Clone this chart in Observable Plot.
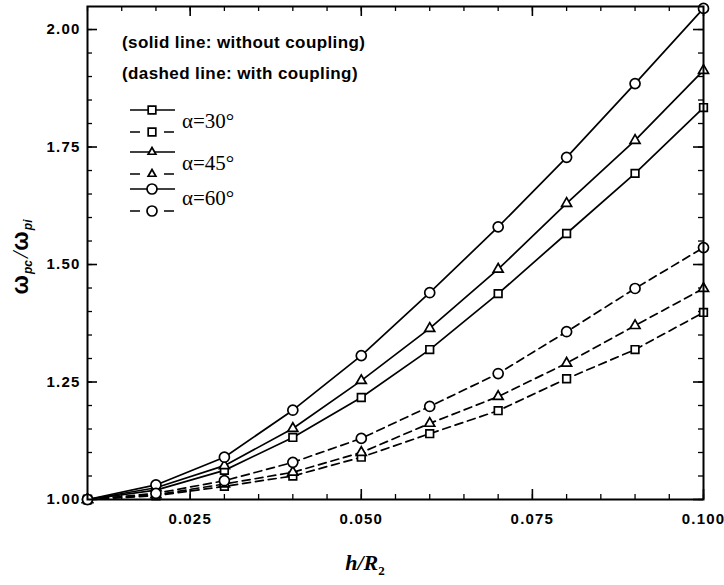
<!DOCTYPE html>
<html>
<head>
<meta charset="utf-8">
<script src="https://cdn.jsdelivr.net/npm/d3@7"></script>
<script src="https://cdn.jsdelivr.net/npm/@observablehq/plot@0.6"></script>
<style>
  html, body { margin: 0; padding: 0; background: #fff; }
  #chart { width: 724px; height: 585px; }
</style>
</head>
<body>
<div id="chart"></div>
<script>
// ---- Data ----
const hR = [0.01, 0.02, 0.03, 0.04, 0.05, 0.06, 0.07, 0.08, 0.09, 0.10];
const solid30 = [1.000, 1.020, 1.062, 1.132, 1.217, 1.319, 1.438, 1.566, 1.694, 1.834];
const solid45 = [1.000, 1.025, 1.072, 1.151, 1.253, 1.364, 1.490, 1.630, 1.764, 1.913];
const solid60 = [1.000, 1.031, 1.090, 1.190, 1.306, 1.440, 1.580, 1.728, 1.885, 2.045];
const dash30  = [1.000, 1.008, 1.028, 1.050, 1.090, 1.140, 1.189, 1.257, 1.319, 1.398];
const dash45  = [1.000, 1.010, 1.033, 1.058, 1.100, 1.162, 1.219, 1.290, 1.370, 1.449];
const dash60  = [1.000, 1.013, 1.040, 1.079, 1.130, 1.198, 1.268, 1.357, 1.449, 1.536];

const alphas = ["α=30°", "α=45°", "α=60°"];
const symbols = ["square", "triangle", "circle"];
const legendNotes = ["(solid line: without coupling)", "(dashed line: with coupling)"];

const xMajor = [0.025, 0.050, 0.075, 0.100];
const xMinor = d3.range(0, 19).map(i => +(0.01 + i * 0.005).toFixed(3));
const yMajor = [1.00, 1.25, 1.50, 1.75, 2.00];
const yMinor = d3.range(0, 21).map(i => +(1 + i * 0.05).toFixed(2));

// ---- Build tables ----
const solidSets = [solid30, solid45, solid60];
const dashSets = [dash30, dash45, dash60];
const solidRows = [], dashRows = [];
solidSets.forEach((vals, k) => vals.forEach((v, i) => solidRows.push({x: hR[i], y: v, s: alphas[k], sym: symbols[k]})));
dashSets.forEach((vals, k) => vals.forEach((v, i) => dashRows.push({x: hR[i], y: v, s: alphas[k], sym: symbols[k]})));
const allRows = solidRows.concat(dashRows);

// ---- Layout ----
const W = 724, H = 585, mL = 87, mR = 21, mT = 6, mB = 86;
const fw = W - mL - mR, fh = H - mT - mB;
const symR = {square: 4.3, triangle: 3.7, circle: 5};
const lineW = 1.7;

const plot = Plot.plot({
  width: W, height: H,
  marginLeft: mL, marginRight: mR, marginTop: mT, marginBottom: mB,
  style: {fontFamily: "'Liberation Sans', Arial, sans-serif", fontSize: "15px", fontWeight: "bold", color: "#000", background: "#fff", letterSpacing: "1.2px"},
  x: {domain: [0.01, 0.1]},
  y: {domain: [1.0, 2.049]},
  marks: [
    // tick labels
    Plot.axisX(xMajor, {tickSize: 0, tickPadding: 14, tickFormat: d => d.toFixed(3), label: null}),
    Plot.axisY(yMajor, {tickSize: 0, tickPadding: 7, tickFormat: d => d.toFixed(2), label: null}),
    // inward minor ticks
    Plot.tickX(xMinor, {x: d => d, insetTop: fh - 5, stroke: "#000", strokeWidth: 1.3}),
    Plot.tickX(xMinor, {x: d => d, insetBottom: fh - 5, stroke: "#000", strokeWidth: 1.3}),
    Plot.tickY(yMinor, {y: d => d, insetRight: fw - 5, stroke: "#000", strokeWidth: 1.3}),
    Plot.tickY(yMinor, {y: d => d, insetLeft: fw - 5, stroke: "#000", strokeWidth: 1.3}),
    // inward major ticks
    Plot.tickX(xMajor, {x: d => d, insetTop: fh - 10, stroke: "#000", strokeWidth: 1.6}),
    Plot.tickX(xMajor, {x: d => d, insetBottom: fh - 10, stroke: "#000", strokeWidth: 1.6}),
    Plot.tickY(yMajor, {y: d => d, insetRight: fw - 10, stroke: "#000", strokeWidth: 1.6}),
    Plot.tickY(yMajor, {y: d => d, insetLeft: fw - 10, stroke: "#000", strokeWidth: 1.6}),
    // lines
    Plot.line(solidRows, {x: "x", y: "y", z: "s", stroke: "#000", strokeWidth: lineW}),
    Plot.line(dashRows, {x: "x", y: "y", z: "s", stroke: "#000", strokeWidth: lineW, strokeDasharray: "8,5"}),
    // markers
    ...symbols.map(sym => Plot.dot(allRows.filter(d => d.sym === sym), {
      x: "x", y: "y", symbol: sym, r: symR[sym], fill: "#fff", stroke: "#000", strokeWidth: 1.7
    })),
    Plot.frame({stroke: "#000", strokeWidth: 2})
  ]
});

document.getElementById("chart").appendChild(plot);

// ---- Annotations: axis titles and in-plot legend ----
const svg = d3.select(plot);

// y-axis title
const yt = svg.append("text")
  .attr("transform", "translate(28,257) rotate(-90)")
  .attr("text-anchor", "middle")
  .style("font-family", "'Liberation Sans', Arial, sans-serif")
  .style("font-size", "23px").style("font-weight", "bold").style("letter-spacing", "0px");
yt.append("tspan").text("ω");
yt.append("tspan").attr("dy", 4).attr("dx", 1).style("font-size", "12px").style("font-style", "italic").text("pc");
yt.append("tspan").attr("dy", -4).attr("dx", 2).style("font-family", "'Liberation Serif', serif").style("font-style", "italic").style("font-weight", "normal").text("/");
yt.append("tspan").attr("dx", 1).text("ω");
yt.append("tspan").attr("dy", 4).attr("dx", 1).style("font-size", "12px").style("font-style", "italic").text("pi");

// x-axis title
const xt = svg.append("text")
  .attr("x", 365).attr("y", 570)
  .attr("text-anchor", "middle")
  .style("font-family", "'Liberation Serif', 'Times New Roman', serif")
  .style("font-size", "22px").style("font-style", "italic").style("font-weight", "bold").style("letter-spacing", "0px");
xt.append("tspan").text("h/R");
xt.append("tspan").attr("dy", 5).style("font-size", "13px").style("font-style", "normal").text("2");

// legend notes
legendNotes.forEach((t, i) => {
  svg.append("text").attr("x", 122).attr("y", 48 + i * 31)
    .attr("text-anchor", "start")
    .style("font-family", "'Liberation Sans', Arial, sans-serif")
    .style("font-size", "17px").style("font-weight", "bold").style("letter-spacing", "0.4px")
    .text(t);
});

// legend entries
const rowY = [[110, 132], [152, 174], [189, 211]];
const labY = [128, 170, 205];
const symGen = {square: d3.symbolSquare, triangle: d3.symbolTriangle2, circle: d3.symbolCircle};
symbols.forEach((sym, k) => {
  const [ys, yd] = rowY[k];
  svg.append("line").attr("x1", 130).attr("x2", 175).attr("y1", ys).attr("y2", ys)
    .attr("stroke", "#000").attr("stroke-width", lineW);
  svg.append("line").attr("x1", 130).attr("x2", 174).attr("y1", yd).attr("y2", yd)
    .attr("stroke", "#000").attr("stroke-width", lineW)
    .attr("stroke-dasharray", "10,24,10");
  [ys, yd].forEach(yy => {
    svg.append("path")
      .attr("d", d3.symbol(symGen[sym], Math.PI * symR[sym] * symR[sym])())
      .attr("transform", `translate(152,${yy})`)
      .attr("fill", "#fff").attr("stroke", "#000").attr("stroke-width", 1.7);
  });
  svg.append("text").attr("x", 182).attr("y", labY[k])
    .attr("text-anchor", "start")
    .style("font-family", "'Liberation Serif', 'Times New Roman', serif")
    .style("font-size", "21px").style("font-weight", "normal").style("letter-spacing", "0px")
    .text(alphas[k]);
});
</script>
</body>
</html>
